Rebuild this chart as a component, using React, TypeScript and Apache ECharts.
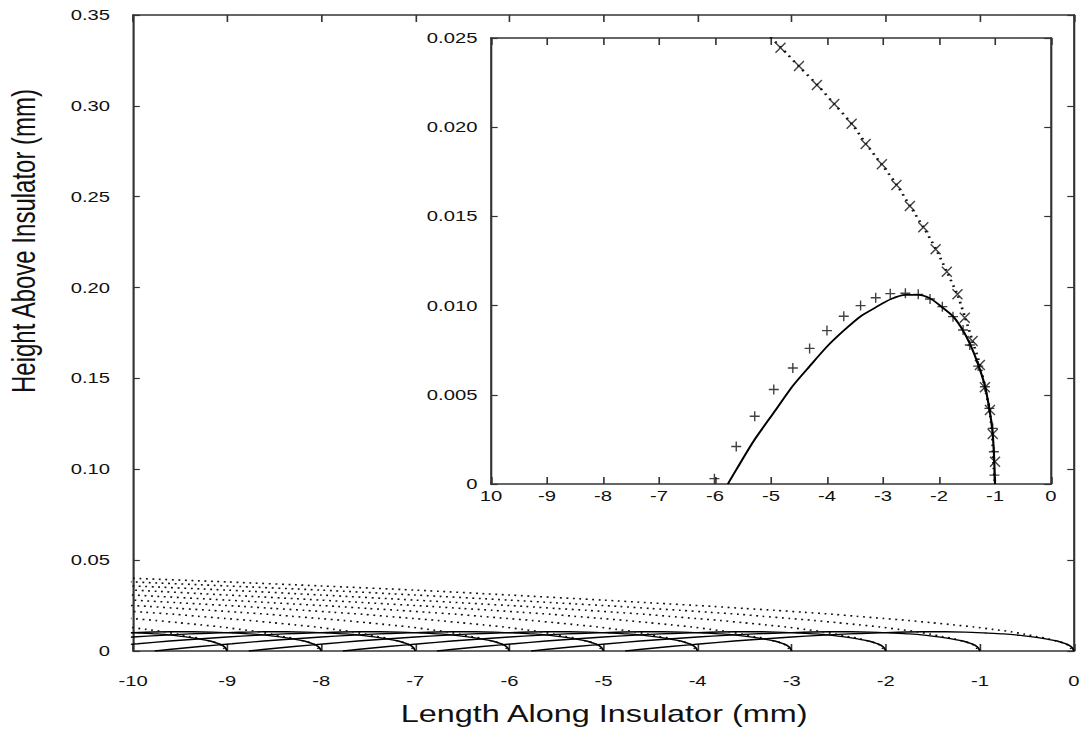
import React, { useEffect, useRef } from 'react';
import * as echarts from 'echarts';

// Ends (mm) of the successive profiles drawn in the main panel
const CURVE_ENDS = [0, -1, -2, -3, -4, -5, -6, -7, -8, -9];
// End of the profile shown in the inset
const INSET_END = -1;

// Solid profile (hump), x relative to its end point
const HUMP_DX = [-4.77, -4.62, -4.29, -3.95, -3.61, -3.31, -3.0, -2.7, -2.4, -2.13, -1.87, -1.6, -1.37, -1.16, -0.94, -0.75, -0.57, -0.44, -0.3, -0.18, -0.1, -0.05, -0.02, 0];
const HUMP_Y = [0, 0.0008, 0.0025, 0.004, 0.0055, 0.0066, 0.0077, 0.0086, 0.0094, 0.0099, 0.01035, 0.0106, 0.0106, 0.0104, 0.0099, 0.0094, 0.0086, 0.0078, 0.0067, 0.0055, 0.0042, 0.0031, 0.0018, 0];

// Dotted profile, x relative to its end point
const TRAIL_DX = [-10, -9, -8, -7, -6, -5, -4.5, -3.83, -3.5, -3.18, -2.87, -2.56, -2.31, -2.02, -1.76, -1.52, -1.28, -1.06, -0.86, -0.67, -0.53, -0.4, -0.27, -0.18, -0.1, -0.05, -0.03, 0];
const TRAIL_Y = [0.04, 0.038, 0.0358, 0.0335, 0.0308, 0.028, 0.0265, 0.0245, 0.0234, 0.0224, 0.0213, 0.0202, 0.0191, 0.0179, 0.0168, 0.0156, 0.0144, 0.0132, 0.0119, 0.0106, 0.0093, 0.008, 0.0067, 0.0054, 0.0042, 0.0028, 0.0013, 0];

// "+" markers in the inset
const PLUS_X = [-6.01, -5.62, -5.29, -4.95, -4.61, -4.31, -4.0, -3.7, -3.4, -3.13, -2.87, -2.6, -2.37, -2.16, -1.94, -1.75, -1.57, -1.45, -1.3, -1.18, -1.1, -1.04, -1.02, -1.01];
const PLUS_Y = [0.0003, 0.0021, 0.0038, 0.0053, 0.0065, 0.0076, 0.0086, 0.0094, 0.01, 0.01044, 0.01067, 0.01069, 0.01063, 0.01037, 0.00994, 0.00938, 0.00863, 0.00779, 0.00661, 0.00545, 0.00424, 0.00312, 0.00181, 0.0005];

// "x" markers in the inset
const CROSS_X = [-4.83, -4.5, -4.18, -3.87, -3.56, -3.31, -3.02, -2.76, -2.52, -2.28, -2.06, -1.86, -1.67, -1.54, -1.4, -1.27, -1.18, -1.09, -1.04, -1.0];
const CROSS_Y = [0.02446, 0.02343, 0.02237, 0.0213, 0.0202, 0.01906, 0.01792, 0.01676, 0.01558, 0.01439, 0.01316, 0.0119, 0.01063, 0.00932, 0.00802, 0.00667, 0.00542, 0.00415, 0.0028, 0.00125];

const X_TITLE = 'Length Along Insulator (mm)';
const Y_TITLE = 'Height Above Insulator (mm)';

const S = 1.3495; // horizontal stretch of the reference image
const W = 804;
const H = 744;
const FONT = '"Liberation Sans", Arial, Helvetica, sans-serif';
const INK = '#111';
const AXIS = '#333';

function shifted(dx: number[], y: number[], end: number): number[][] {
  return dx.map((d, i) => [end + d, y[i]]);
}

function xAxisDef(grid: number, pos: 'top' | 'bottom', labels: boolean, margin: number, fmt?: (v: number) => string) {
  return {
    type: 'value', gridIndex: grid, min: -10, max: 0, interval: 1, position: pos,
    axisLine: { show: true, onZero: false, lineStyle: { color: AXIS, width: 1.6 } },
    axisTick: { show: true, inside: true, length: 7, lineStyle: { color: AXIS, width: 1.2 } },
    axisLabel: { show: labels, margin, fontSize: 15, color: INK, fontFamily: FONT, formatter: fmt, showMinLabel: true, showMaxLabel: true },
    splitLine: { show: false },
  };
}

function yAxisDef(grid: number, pos: 'left' | 'right', max: number, interval: number, labels: boolean, margin: number, fmt?: (v: number) => string) {
  return {
    type: 'value', gridIndex: grid, min: 0, max, interval, position: pos,
    axisLine: { show: true, onZero: false, lineStyle: { color: AXIS, width: 1.6 } },
    axisTick: { show: true, inside: true, length: 5, lineStyle: { color: AXIS, width: 1.2 } },
    axisLabel: { show: labels, margin, fontSize: 15, color: INK, fontFamily: FONT, formatter: fmt, showMinLabel: true, showMaxLabel: true },
    splitLine: { show: false },
  };
}

export default function App() {
  const ref = useRef<HTMLDivElement>(null);

  useEffect(() => {
    if (!ref.current) return;
    const chart = echarts.init(ref.current, undefined, { renderer: 'svg', width: W, height: H });

    const series: any[] = [];
    CURVE_ENDS.forEach((end) => {
      series.push({
        type: 'line', xAxisIndex: 0, yAxisIndex: 0, silent: true,
        data: shifted(TRAIL_DX, TRAIL_Y, end),
        symbol: 'none', showSymbol: false, smooth: 0.25,
        lineStyle: { color: '#111', width: 1.6, type: [1.4, 3.4] },
      });
      series.push({
        type: 'line', xAxisIndex: 0, yAxisIndex: 0, silent: true,
        data: shifted(HUMP_DX, HUMP_Y, end),
        symbol: 'none', showSymbol: false, smooth: 0.25,
        lineStyle: { color: '#000', width: 1.4 },
      });
    });

    series.push({
      type: 'line', xAxisIndex: 2, yAxisIndex: 2, silent: true,
      data: shifted(TRAIL_DX, TRAIL_Y, INSET_END),
      symbol: 'none', showSymbol: false, smooth: 0.25,
      lineStyle: { color: '#111', width: 2, type: [1.6, 4.2] },
    });
    series.push({
      type: 'line', xAxisIndex: 2, yAxisIndex: 2, silent: true,
      data: shifted(HUMP_DX, HUMP_Y, INSET_END),
      symbol: 'none', showSymbol: false, smooth: 0.25,
      lineStyle: { color: '#000', width: 1.6 },
    });
    series.push({
      type: 'scatter', xAxisIndex: 2, yAxisIndex: 2, silent: true,
      data: PLUS_X.map((x, i) => [x, PLUS_Y[i]]),
      symbol: 'path://M0,5L10,5M5,0L5,10', symbolSize: [7.4, 10],
      itemStyle: { color: 'rgba(0,0,0,0)', borderColor: '#111', borderWidth: 1.2 },
    });
    series.push({
      type: 'scatter', xAxisIndex: 2, yAxisIndex: 2, silent: true,
      data: CROSS_X.map((x, i) => [x, CROSS_Y[i]]),
      symbol: 'path://M0,0L10,10M10,0L0,10', symbolSize: [7.4, 10],
      itemStyle: { color: 'rgba(0,0,0,0)', borderColor: '#111', borderWidth: 1.2 },
    });

    chart.setOption({
      animation: false,
      backgroundColor: '#fff',
      grid: [
        { left: 98.6, right: 8.15, top: 15, bottom: 93, containLabel: false },
        { left: 363.8, right: 25.2, top: 38, bottom: 260, containLabel: false },
      ],
      xAxis: [
        xAxisDef(0, 'bottom', true, 22, (v: number) => String(v)),
        xAxisDef(0, 'top', false, 8),
        xAxisDef(1, 'bottom', true, 4, (v: number) => (v === -10 ? '10' : String(v))),
        xAxisDef(1, 'top', false, 8),
      ],
      yAxis: [
        yAxisDef(0, 'left', 0.35, 0.05, true, 17, (v: number) => (v === 0 ? '0' : v.toFixed(2))),
        yAxisDef(0, 'right', 0.35, 0.05, false, 8),
        yAxisDef(1, 'left', 0.025, 0.005, true, 10, (v: number) => (v === 0 ? '0' : v.toFixed(3))),
        yAxisDef(1, 'right', 0.025, 0.005, false, 8),
      ],
      graphic: [
        {
          type: 'text', x: 447.6, y: 714, silent: true,
          style: { text: X_TITLE, fontSize: 24, fontFamily: FONT, fill: INK, align: 'center', verticalAlign: 'middle' },
        },
        {
          type: 'text', x: 17.8, y: 241, rotation: Math.PI / 2, silent: true,
          style: { text: Y_TITLE, fontSize: 24, fontFamily: FONT, fill: INK, align: 'center', verticalAlign: 'middle' },
        },
      ],
      series,
    });

    return () => {
      chart.dispose();
    };
  }, []);

  return (
    <div style={{ position: 'absolute', left: 0, top: 0, width: 1085, height: 744, overflow: 'hidden', background: '#fff' }}>
      <div
        ref={ref}
        style={{ width: W, height: H, transform: `scaleX(${S})`, transformOrigin: '0 0' }}
      />
    </div>
  );
}
